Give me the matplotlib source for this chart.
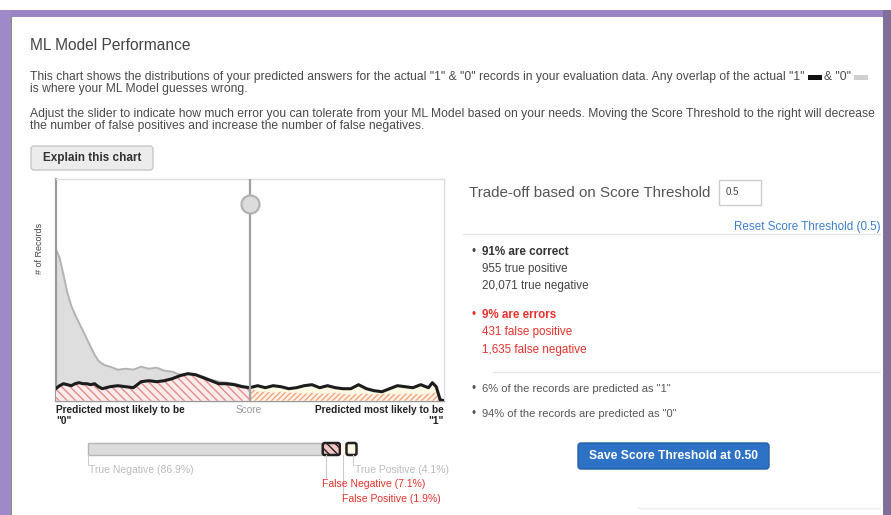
import matplotlib
matplotlib.use('Agg')
import matplotlib.pyplot as plt
from matplotlib.patches import Rectangle, FancyBboxPatch
import numpy as np

plt.rcParams['font.family'] = ['Liberation Sans', 'DejaVu Sans']
plt.rcParams['hatch.linewidth'] = 1.0

# ---------------- data ----------------
scores = [0.00, 0.01, 0.02, 0.03, 0.04, 0.05, 0.06, 0.07, 0.08, 0.09, 0.10, 0.11, 0.12, 0.13, 0.14,
          0.16, 0.18, 0.20, 0.22, 0.24, 0.26, 0.28, 0.30, 0.32, 0.34, 0.36, 0.38, 0.40, 0.42, 0.44,
          0.46, 0.48, 0.50,
          0.52, 0.54, 0.56, 0.58, 0.60, 0.62, 0.64, 0.66, 0.68, 0.70, 0.72, 0.74, 0.76, 0.78, 0.80,
          0.82, 0.84, 0.86, 0.88, 0.90, 0.92, 0.94, 0.96,
          0.97, 0.98, 0.99, 1.00]
actual0_records = [152, 143, 126, 108, 95, 86, 78, 70, 62, 54, 46, 40, 37, 35, 34,
                   31, 32, 31, 34, 32, 33, 30, 29, 26, 27, 26, 24, 21, 19, 18,
                   17, 15, 13,
                   9, 9, 8, 9, 8, 8, 7, 8, 7, 7, 8, 7, 6, 7, 7,
                   6, 7, 7, 6, 7, 7, 6, 7,
                   8, 8, 1, 0]
actual1_records = [12, 15, 17, 16, 15, 17, 18, 17, 17, 16, 17, 14, 12, 13, 14,
                   15, 14, 13, 19, 20, 19, 20, 22, 25, 27, 26, 23, 20, 17, 17,
                   16, 14, 13,
                   15, 13, 15, 14, 12, 13, 15, 16, 13, 15, 13, 12, 12, 16, 12,
                   10, 9, 12, 15, 14, 13, 16, 13,
                   18, 14, 1, 0]
threshold = 0.5

summary_names = ['True Negative', 'False Negative', 'False Positive', 'True Positive']
summary_pcts = [86.9, 7.1, 1.9, 4.1]

correct_pct = 91
true_pos = '955'
true_neg = '20,071'
error_pct = 9
false_pos = '431'
false_neg = '1,635'
pred1_pct = 6
pred0_pct = 94

# ---------------- figure ----------------
W, H = 891, 515
fig = plt.figure(figsize=(W / 100, H / 100), dpi=100)
bg = fig.add_axes([0, 0, 1, 1])
bg.set_xlim(0, W)
bg.set_ylim(H, 0)
bg.axis('off')

# purple frame
bg.add_patch(Rectangle((0, 10), W, 7, color='#9b84c6', lw=0))
bg.add_patch(Rectangle((0, 10), 11, H, color='#9f89c9', lw=0))
bg.add_patch(Rectangle((10.5, 16), 1.5, H, color='#7a8f78', lw=0))
bg.add_patch(Rectangle((883, 10), 8, H, color='#7f6f99', lw=0))
bg.add_patch(Rectangle((12, 17), 871, H, color='white', lw=0))

TXT = '#4a4a4a'
renderer = fig.canvas.get_renderer()

def width_of(t):
    bb = t.get_window_extent(renderer=renderer)
    return bb.width

bg.text(30, 45, 'ML Model Performance', fontsize=11.2, color='#444444', va='center')

fs_p = 8.7
t = bg.text(30, 77, 'This chart shows the distributions of your predicted answers for the actual "1" & "0" '
            'records in your evaluation data. Any overlap of the actual "1" ',
            fontsize=fs_p, color=TXT, va='center')
x = 30 + width_of(t)
bg.add_patch(Rectangle((x, 75), 14, 4.5, color='#111111', lw=0))
x += 16
t2 = bg.text(x, 77, '& "0" ', fontsize=fs_p, color=TXT, va='center')
x += width_of(t2)
bg.add_patch(Rectangle((x, 75), 14, 4.5, color='#cfcfcf', lw=0))
bg.text(30, 89, 'is where your ML Model guesses wrong.', fontsize=fs_p, color=TXT, va='center')
bg.text(30, 114, 'Adjust the slider to indicate how much error you can tolerate from your ML Model based on '
        'your needs. Moving the Score Threshold to the right will decrease',
        fontsize=fs_p, color=TXT, va='center')
bg.text(30, 126, 'the number of false positives and increase the number of false negatives.',
        fontsize=fs_p, color=TXT, va='center')

# Explain button
bg.add_patch(FancyBboxPatch((31, 146), 122, 24, boxstyle='round,pad=0,rounding_size=3',
                            fc='#ececec', ec='#c8c8c8', lw=1))
bg.text(43, 158, 'Explain this chart', fontsize=8.5, fontweight='bold', color='#333333', va='center')

# ---------------- chart ----------------
L, T, R, B = 55.7, 179, 444, 400.7
ax = fig.add_axes([L / W, 1 - B / H, (R - L) / W, (B - T) / H])
ax.set_xlim(0, 1)
ax.set_ylim(0, B - T)
ax.set_xticks([])
ax.set_yticks([])
for s in ['top', 'right']:
    ax.spines[s].set_color('#dddddd')
    ax.spines[s].set_linewidth(1)
ax.spines['left'].set_color('#9a9a9a')
ax.spines['left'].set_linewidth(1.6)
ax.spines['bottom'].set_color('#9a9a9a')
ax.spines['bottom'].set_linewidth(1)

sc = np.array(scores)
a0 = np.array(actual0_records, dtype=float)
a1 = np.array(actual1_records, dtype=float)
left = sc <= threshold
right = sc >= threshold

# true negatives (grey)
ax.fill_between(sc[left], 0, a0[left], color='#dedede', lw=0, zorder=1)
ax.plot(sc[left], a0[left], color='#b3b3b3', lw=1.4, zorder=2)
# false negatives (red hatch)
ax.fill_between(sc[left], 0, a1[left], facecolor='#fbecec', edgecolor='#e58a8a', hatch='\\\\\\\\',
                lw=0, zorder=3)
# true positives (cream)
ax.fill_between(sc[right], 0, a1[right], color='#fbf8e3', lw=0, zorder=1)
# false positives (orange hatch)
ax.fill_between(sc[right], 0, a0[right], facecolor='#fff3ea', edgecolor='#f0a57c', hatch='//////',
                lw=0, zorder=3)
# actual "1" outline
ax.plot(sc, a1, color='#1c1c1c', lw=2.2, zorder=5)

# threshold slider
ax.axvline(threshold, color='#a0a0a0', lw=1.6, zorder=6)
ax.plot([threshold], [B - 204], 'o', ms=13, mfc='#dcdcdc', mec='#b0b0b0', mew=1.5, zorder=7,
        clip_on=False)

bg.text(40, 248, '# of Records', rotation=90, fontsize=6.5, color='#444444', ha='center', va='center')

fs_ax = 7.3
bg.text(56, 410, 'Predicted most likely to be', fontsize=fs_ax, fontweight='bold', color='#222222', va='center')
bg.text(56, 421, '"0"', fontsize=fs_ax, fontweight='bold', color='#222222', va='center')
bg.text(249, 410, 'Score', fontsize=fs_ax, color='#999999', va='center', ha='center')
bg.text(444, 410, 'Predicted most likely to be', fontsize=fs_ax, fontweight='bold', color='#222222',
        va='center', ha='right')
bg.text(444, 421, '"1"', fontsize=fs_ax, fontweight='bold', color='#222222', va='center', ha='right')

# ---------------- summary bar ----------------
bx0, bw, by, bh = 88, 269, 443, 12
xs = [bx0]
for p in summary_pcts:
    xs.append(xs[-1] + p / 100 * bw)
bg.add_patch(Rectangle((xs[0], by), xs[1] - xs[0], bh, fc='#dcdcdc', ec='#b5b5b5', lw=1))
bg.add_patch(FancyBboxPatch((xs[1] + 1, by), xs[2] - xs[1] - 2, bh, boxstyle='round,pad=0,rounding_size=2',
                            fc='#f3c5c5', ec='#222222', lw=1.8, hatch='\\\\\\\\'))
bg.add_patch(Rectangle((xs[2], by), xs[3] - xs[2], bh, fc='#fff3ea', ec='none', lw=0))
bg.add_patch(FancyBboxPatch((xs[3] + 0.5, by), xs[4] - xs[3] - 1, bh, boxstyle='round,pad=0,rounding_size=2',
                            fc='#fbf8e3', ec='#222222', lw=1.8))

tick_c = '#cccccc'
lab_fs = 7.5
RED = '#e5322d'
bg.plot([xs[0], xs[0]], [by + bh, 465], color=tick_c, lw=0.8)
bg.text(xs[0] + 1, 470, f'{summary_names[0]} ({summary_pcts[0]}%)', fontsize=lab_fs, color='#bbbbbb', va='center')
fn_x = xs[1] + 4
bg.plot([fn_x, fn_x], [by + bh, 478], color=tick_c, lw=0.8)
bg.text(xs[1], 484, f'{summary_names[1]} ({summary_pcts[1]}%)', fontsize=lab_fs, color=RED, va='center')
fp_x = (xs[2] + xs[3]) / 2
bg.plot([fp_x, fp_x], [by + bh, 493], color=tick_c, lw=0.8)
bg.text(fp_x - 1, 499, f'{summary_names[2]} ({summary_pcts[2]}%)', fontsize=lab_fs, color=RED, va='center')
tp_x = (xs[3] + xs[4]) / 2 + 2
bg.plot([tp_x, tp_x], [by + bh, 465], color=tick_c, lw=0.8)
bg.text(tp_x + 2, 470, f'{summary_names[3]} ({summary_pcts[3]}%)', fontsize=lab_fs, color='#bbbbbb', va='center')

# ---------------- right panel ----------------
bg.text(469, 193, 'Trade-off based on Score Threshold', fontsize=10.9, color='#555555', va='center')
bg.add_patch(Rectangle((719, 180), 42, 25, fc='white', ec='#cccccc', lw=1))
bg.text(726, 192, f'{threshold}', fontsize=7, color='#444444', va='center')
bg.text(880, 227, f'Reset Score Threshold ({threshold})', fontsize=8.4, color='#3d7fcc', va='center', ha='right')
bg.plot([463, 880], [234, 234], color='#e6e6e6', lw=1)

fs_r = 8.4
bg.text(472, 252, '•', fontsize=fs_r, color='#444444', va='center')
bg.text(482, 252, f'{correct_pct}% are correct', fontsize=fs_r, fontweight='bold', color='#333333', va='center')
bg.text(482, 269, f'{true_pos} true positive', fontsize=fs_r, color='#444444', va='center')
bg.text(482, 286, f'{true_neg} true negative', fontsize=fs_r, color='#444444', va='center')
bg.text(472, 315, '•', fontsize=fs_r, color=RED, va='center')
bg.text(482, 315, f'{error_pct}% are errors', fontsize=fs_r, fontweight='bold', color=RED, va='center')
bg.text(482, 332, f'{false_pos} false positive', fontsize=fs_r, color=RED, va='center')
bg.text(482, 350, f'{false_neg} false negative', fontsize=fs_r, color=RED, va='center')
bg.plot([493, 880], [372, 372], color='#e6e6e6', lw=1)
bg.text(472, 389, '•', fontsize=fs_r, color='#555555', va='center')
bg.text(482, 389, f'{pred1_pct}% of the records are predicted as "1"', fontsize=8.0, color='#555555', va='center')
bg.text(472, 414, '•', fontsize=fs_r, color='#555555', va='center')
bg.text(482, 414, f'{pred0_pct}% of the records are predicted as "0"', fontsize=8.0, color='#555555', va='center')

bg.add_patch(FancyBboxPatch((578, 443), 191, 26, boxstyle='round,pad=0,rounding_size=3',
                            fc='#2d72c4', ec='#2461a8', lw=1))
bg.text(673.5, 456, f'Save Score Threshold at {threshold:.2f}', fontsize=8.7, fontweight='bold',
        color='white', va='center', ha='center')
bg.plot([638, 880], [508, 508], color='#ececec', lw=1)

fig.savefig('out.png', dpi=100)
